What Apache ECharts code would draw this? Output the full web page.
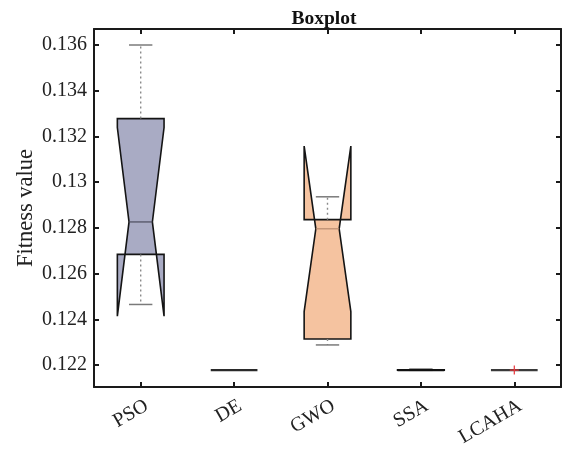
<!DOCTYPE html>
<html>
<head>
<meta charset="utf-8">
<script src="https://cdn.jsdelivr.net/npm/echarts@6/dist/echarts.min.js"></script>
<style>
  html, body { margin: 0; padding: 0; background: #fff; }
  #chart { width: 573px; height: 452px; }
</style>
</head>
<body>
<div id="chart"></div>
<script>
// Algorithms compared
const categories = ['PSO', 'DE', 'GWO', 'SSA', 'LCAHA'];

// Box statistics per algorithm (fitness value)
const whiskerLow  = [0.12465, 0.12178, 0.12288, 0.12177, 0.12178];
const quartile1   = [0.12684, 0.12178, 0.12314, 0.12177, 0.12178];
const medians     = [0.12826, 0.12178, 0.12796, 0.12178, 0.12178];
const quartile3   = [0.13278, 0.12178, 0.12836, 0.12178, 0.12178];
const whiskerHigh = [0.13600, 0.12178, 0.12936, 0.12180, 0.12178];
// Notch limits around each median
const notchLow    = [0.12414, 0.12178, 0.12434, 0.12177, 0.12178];
const notchHigh   = [0.13239, 0.12178, 0.13158, 0.12179, 0.12178];

// Outliers: [category index, value]
const outliers = [[4, 0.12178]];

// Y-axis tick values
const yTicks = [0.122, 0.124, 0.126, 0.128, 0.130, 0.132, 0.134, 0.136];
const yMin = 0.12104, yMax = 0.1367;

// Styling per box
const boxFill   = ['#a9abc4', null, '#f5c3a0', null, null];
const boxEdge   = ['#141414', '#2a2a2a', '#141414', '#111111', '#3a3a3a'];
const medColor  = ['#4c4c5c', '#2a2a2a', '#b98b6e', '#111111', '#3a3a3a'];

const serif = 'Liberation Serif, Times New Roman, serif';

const boxData = categories.map((c, i) => [
  i, whiskerLow[i], quartile1[i], medians[i], quartile3[i], whiskerHigh[i], notchLow[i], notchHigh[i]
]);

function renderBox(params, api) {
  const i = api.value(0);
  const band = api.size([1, 0])[0];
  const hw = band * 0.25;      // half box width
  const nw = hw * 0.5;         // half notch width
  const capW = hw * 0.5;
  const cx = api.coord([i, medians[0]])[0];
  const y = v => api.coord([i, v])[1];
  const lo = y(api.value(1)), q1 = y(api.value(2)), med = y(api.value(3)),
        q3 = y(api.value(4)), hi = y(api.value(5)), nLo = y(api.value(6)), nHi = y(api.value(7));
  const L = cx - hw, R = cx + hw;
  const children = [];
  const flat = Math.abs(q1 - q3) < 0.5 && Math.abs(lo - hi) < 0.5;

  if (!flat) {
    children.push({
      type: 'polygon',
      shape: { points: [[L, q1], [L, nLo], [cx - nw, med], [L, nHi], [L, q3],
                        [R, q3], [R, nHi], [cx + nw, med], [R, nLo], [R, q1]] },
      style: { fill: boxFill[i] || 'none', stroke: boxEdge[i], lineWidth: 1.6 }
    });
    children.push({
      type: 'line',
      shape: { x1: cx - nw, y1: med, x2: cx + nw, y2: med },
      style: { stroke: medColor[i], lineWidth: 1.2 }
    });
    // whiskers
    if (hi < q3 - 0.5) {
      children.push({ type: 'line', shape: { x1: cx, y1: q3, x2: cx, y2: hi },
        style: { stroke: '#8a8a8a', lineWidth: 1.4, lineDash: [2, 3] } });
    }
    if (lo > q1 + 0.5) {
      children.push({ type: 'line', shape: { x1: cx, y1: q1, x2: cx, y2: lo },
        style: { stroke: '#8a8a8a', lineWidth: 1.4, lineDash: [2, 3] } });
    }
    children.push({ type: 'line', shape: { x1: cx - capW, y1: hi, x2: cx + capW, y2: hi },
      style: { stroke: '#7a7a7a', lineWidth: 1.5 } });
    children.push({ type: 'line', shape: { x1: cx - capW, y1: lo, x2: cx + capW, y2: lo },
      style: { stroke: '#7a7a7a', lineWidth: 1.5 } });
  }
  if (flat || Math.abs(q1 - q3) < 2) {
    // collapsed box drawn as a single line
    children.push({ type: 'line', shape: { x1: L, y1: med, x2: R, y2: med },
      style: { stroke: boxEdge[i], lineWidth: 2.2 } });
    if (Math.abs(hi - q3) >= 0.3 || Math.abs(lo - q1) >= 0.3) {
      children.push({ type: 'line', shape: { x1: cx - capW, y1: hi, x2: cx + capW, y2: hi },
        style: { stroke: '#111', lineWidth: 2 } });
    }
  }
  return { type: 'group', children: children };
}

function renderOutlier(params, api) {
  const p = api.coord([api.value(0), api.value(1)]);
  const s = 4.5;
  return {
    type: 'group',
    children: [
      { type: 'line', shape: { x1: p[0], y1: p[1] - s, x2: p[0], y2: p[1] + s },
        style: { stroke: '#e8353a', lineWidth: 1.2 } },
      { type: 'line', shape: { x1: p[0] - s, y1: p[1], x2: p[0] + s, y2: p[1] },
        style: { stroke: '#e8353a', lineWidth: 1.2 } }
    ]
  };
}

const axisLineStyle = { color: '#1a1a1a', width: 2 };

const chart = echarts.init(document.getElementById('chart'), null, { renderer: 'canvas' });
chart.setOption({
  animation: false,
  backgroundColor: '#ffffff',
  title: {
    text: 'Boxplot',
    left: 319, top: 4, textAlign: 'center',
    textStyle: { fontFamily: serif, fontWeight: 'bold', fontSize: 19.5, color: '#111' }
  },
  grid: { left: 94, right: 12, top: 29, bottom: 65 },
  xAxis: [
    {
      type: 'category', data: categories, position: 'bottom', boundaryGap: true,
      axisLine: { show: true, lineStyle: axisLineStyle },
      axisTick: { show: true, inside: true, length: 5, alignWithLabel: true, lineStyle: axisLineStyle },
      axisLabel: { rotate: 30, margin: 21, padding: [0, -7, 0, 0],
                   fontFamily: serif, fontSize: 20, color: '#222' },
      splitLine: { show: false }
    },
    {
      type: 'category', data: categories, position: 'top', boundaryGap: true,
      axisLine: { show: true, lineStyle: axisLineStyle },
      axisTick: { show: true, inside: true, length: 5, alignWithLabel: true, lineStyle: axisLineStyle },
      axisLabel: { show: false },
      splitLine: { show: false }
    }
  ],
  yAxis: [
    {
      type: 'value', min: yMin, max: yMax, position: 'left',
      name: 'Fitness value', nameLocation: 'middle', nameGap: 56, nameMoveOverlap: false,
      nameTextStyle: { fontFamily: serif, fontSize: 22.5, color: '#222' },
      axisLine: { show: true, lineStyle: axisLineStyle },
      axisTick: { show: true, inside: true, length: 5, customValues: yTicks, lineStyle: axisLineStyle },
      axisLabel: { customValues: yTicks, margin: 7, fontFamily: serif, fontSize: 20, color: '#222',
                   formatter: v => String(+v.toFixed(3)) },
      splitLine: { show: false }
    },
    {
      type: 'value', min: yMin, max: yMax, position: 'right',
      axisLine: { show: true, lineStyle: axisLineStyle },
      axisTick: { show: true, inside: true, length: 5, customValues: yTicks, lineStyle: axisLineStyle },
      axisLabel: { show: false },
      splitLine: { show: false }
    }
  ],
  series: [
    {
      type: 'custom', name: 'box', xAxisIndex: 0, yAxisIndex: 0,
      renderItem: renderBox,
      encode: { x: 0, y: [1, 2, 3, 4, 5, 6, 7] },
      data: boxData,
      z: 2
    },
    {
      type: 'custom', name: 'outlier', xAxisIndex: 0, yAxisIndex: 0,
      renderItem: renderOutlier,
      encode: { x: 0, y: 1 },
      data: outliers,
      z: 3
    }
  ]
});
</script>
</body>
</html>
